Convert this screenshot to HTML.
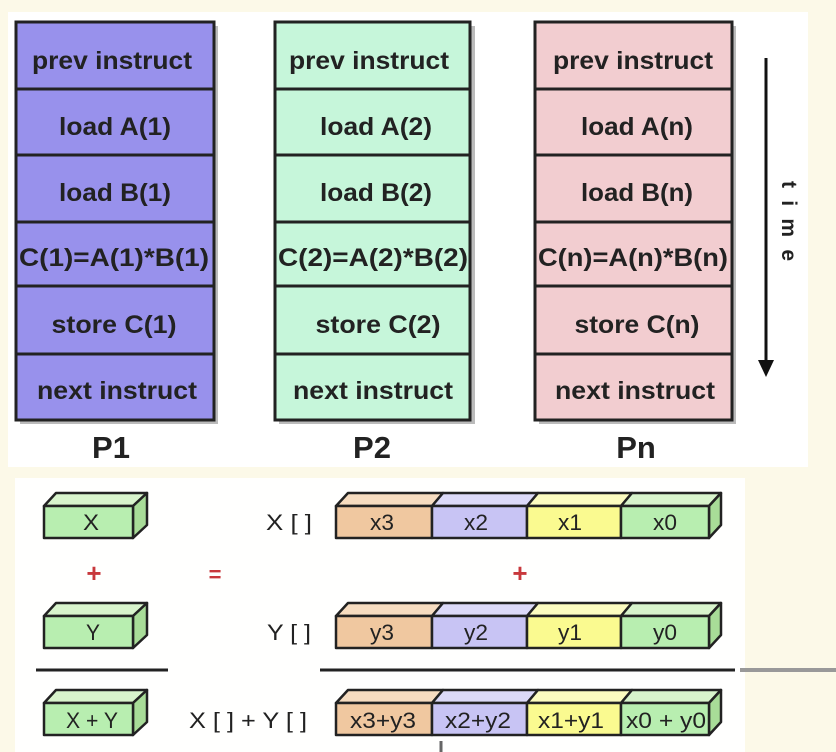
<!DOCTYPE html>
<html><head><meta charset="utf-8"><style>
html,body{margin:0;padding:0;background:#fcf9e8;}
svg{display:block;}
text{font-family:"Liberation Sans",sans-serif;font-weight:bold;fill:#222;}
.c{font-family:"Liberation Sans",sans-serif;font-weight:normal;}
</style></head><body>
<svg width="836" height="752" viewBox="0 0 836 752" xmlns="http://www.w3.org/2000/svg">
<rect x="0" y="0" width="836" height="752" fill="#fcf9e8"/>
<rect x="8" y="12" width="800" height="455" fill="#ffffff"/>
<rect x="15" y="478" width="730" height="274" fill="#fffffe"/>
<g stroke="#222" stroke-width="3">
<rect x="20" y="26" width="198" height="398" fill="#777" stroke="none" opacity="0.5"/>
<rect x="279" y="26" width="196" height="398" fill="#777" stroke="none" opacity="0.5"/>
<rect x="539" y="26" width="197" height="398" fill="#777" stroke="none" opacity="0.5"/>
<rect x="16" y="22" width="198" height="398" fill="#9891ec"/>
<rect x="275" y="22" width="195" height="398" fill="#c6f6da"/>
<rect x="535" y="22" width="197" height="398" fill="#f2cdd0"/>
<path d="M16 89H214M16 155H214M16 222H214M16 286H214M16 354H214" fill="none"/>
<path d="M275 89H470M275 155H470M275 222H470M275 286H470M275 354H470" fill="none"/>
<path d="M535 89H732M535 155H732M535 222H732M535 286H732M535 354H732" fill="none"/>
</g>
<g font-size="25" text-anchor="middle" lengthAdjust="spacingAndGlyphs">
<text x="112" y="69" textLength="160" lengthAdjust="spacingAndGlyphs">prev instruct</text><text x="115" y="135" textLength="112" lengthAdjust="spacingAndGlyphs">load A(1)</text><text x="115" y="201" textLength="112" lengthAdjust="spacingAndGlyphs">load B(1)</text>
<text x="114" y="266" textLength="190" lengthAdjust="spacingAndGlyphs">C(1)=A(1)*B(1)</text><text x="114" y="333" textLength="125" lengthAdjust="spacingAndGlyphs">store C(1)</text><text x="117" y="399" textLength="160" lengthAdjust="spacingAndGlyphs">next instruct</text>
<text x="369" y="69" textLength="160" lengthAdjust="spacingAndGlyphs">prev instruct</text><text x="376" y="135" textLength="112" lengthAdjust="spacingAndGlyphs">load A(2)</text><text x="376" y="201" textLength="112" lengthAdjust="spacingAndGlyphs">load B(2)</text>
<text x="373" y="266" textLength="190" lengthAdjust="spacingAndGlyphs">C(2)=A(2)*B(2)</text><text x="378" y="333" textLength="125" lengthAdjust="spacingAndGlyphs">store C(2)</text><text x="373" y="399" textLength="160" lengthAdjust="spacingAndGlyphs">next instruct</text>
<text x="633" y="69" textLength="160" lengthAdjust="spacingAndGlyphs">prev instruct</text><text x="637" y="135" textLength="112" lengthAdjust="spacingAndGlyphs">load A(n)</text><text x="637" y="201" textLength="112" lengthAdjust="spacingAndGlyphs">load B(n)</text>
<text x="633" y="266" textLength="190" lengthAdjust="spacingAndGlyphs">C(n)=A(n)*B(n)</text><text x="637" y="333" textLength="125" lengthAdjust="spacingAndGlyphs">store C(n)</text><text x="635" y="399" textLength="160" lengthAdjust="spacingAndGlyphs">next instruct</text>
<text x="111" y="458" font-size="31">P1</text><text x="372" y="458" font-size="31">P2</text><text x="636" y="458" font-size="31">Pn</text>
</g>
<line x1="766" y1="58" x2="766" y2="362" stroke="#111" stroke-width="3"/>
<polygon points="758,360 774,360 766,377" fill="#111"/>
<text x="782" y="221" font-size="21" transform="rotate(90 782 221)" text-anchor="middle" textLength="80" lengthAdjust="spacing">time</text>

<g stroke="#222" stroke-width="2.5" stroke-linejoin="round">
<path d="M44 506L56 493H147L133 506Z" fill="#d8f4cc"/><path d="M133 506L147 493V525L133 538Z" fill="#a8dc98"/><rect x="44" y="506" width="89" height="32" fill="#b8eeb0"/>
<path d="M44 616L56 603H147L133 616Z" fill="#d8f4cc"/><path d="M133 616L147 603V635L133 648Z" fill="#a8dc98"/><rect x="44" y="616" width="89" height="32" fill="#b8eeb0"/>
<path d="M44 703L56 690H147L133 703Z" fill="#d8f4cc"/><path d="M133 703L147 690V722L133 735Z" fill="#a8dc98"/><rect x="44" y="703" width="89" height="32" fill="#b8eeb0"/>
<g id="ar">
<path d="M336 506L348 493H443L432 506Z" fill="#f6dcc0"/>
<path d="M432 506L443 493H538L527 506Z" fill="#dcdaf8"/>
<path d="M527 506L538 493H632L621 506Z" fill="#fcfcc0"/>
<path d="M621 506L632 493H721L709 506Z" fill="#d8f4cc"/>
<path d="M709 506L721 493V525L709 538Z" fill="#a8dc98"/>
<rect x="336" y="506" width="96" height="32" fill="#f0c8a0"/>
<rect x="432" y="506" width="95" height="32" fill="#c8c4f4"/>
<rect x="527" y="506" width="94" height="32" fill="#fafa90"/>
<rect x="621" y="506" width="88" height="32" fill="#b8eeb0"/>
</g>
<use href="#ar" y="110"/>
<use href="#ar" y="197"/>
</g>
<g font-size="22" text-anchor="middle">
<text class="c" x="91" y="530" textLength="16" lengthAdjust="spacingAndGlyphs">X</text>
<text class="c" x="93" y="640" textLength="14" lengthAdjust="spacingAndGlyphs">Y</text>
<text class="c" x="92" y="728" textLength="52" lengthAdjust="spacingAndGlyphs">X + Y</text>
<text class="c" x="289" y="530" textLength="46" lengthAdjust="spacingAndGlyphs">X [ ]</text>
<text class="c" x="289" y="640" textLength="44" lengthAdjust="spacingAndGlyphs">Y [ ]</text>
<text class="c" x="248" y="728" textLength="118" lengthAdjust="spacingAndGlyphs">X [ ] + Y [ ]</text>
<text class="c" x="382" y="530" textLength="24" lengthAdjust="spacingAndGlyphs">x3</text><text class="c" x="476" y="530" textLength="24" lengthAdjust="spacingAndGlyphs">x2</text><text class="c" x="570" y="530" textLength="24" lengthAdjust="spacingAndGlyphs">x1</text><text class="c" x="665" y="530" textLength="24" lengthAdjust="spacingAndGlyphs">x0</text>
<text class="c" x="382" y="640" textLength="24" lengthAdjust="spacingAndGlyphs">y3</text><text class="c" x="476" y="640" textLength="24" lengthAdjust="spacingAndGlyphs">y2</text><text class="c" x="570" y="640" textLength="24" lengthAdjust="spacingAndGlyphs">y1</text><text class="c" x="665" y="640" textLength="24" lengthAdjust="spacingAndGlyphs">y0</text>
<text class="c" x="383" y="728" textLength="66" lengthAdjust="spacingAndGlyphs">x3+y3</text><text class="c" x="478" y="728" textLength="66" lengthAdjust="spacingAndGlyphs">x2+y2</text><text class="c" x="571" y="728" textLength="66" lengthAdjust="spacingAndGlyphs">x1+y1</text><text class="c" x="666" y="728" textLength="80" lengthAdjust="spacingAndGlyphs">x0 + y0</text>
</g>
<g font-size="26" text-anchor="middle">
<text x="94" y="582" style="fill:#c8383c">+</text>
<text x="520" y="582" style="fill:#c8383c">+</text>
<text x="215" y="582" style="fill:#c8383c" font-size="22">=</text>
</g>
<line x1="36" y1="670" x2="168" y2="670" stroke="#222" stroke-width="3"/>
<line x1="320" y1="670" x2="735" y2="670" stroke="#222" stroke-width="3"/>
<line x1="740" y1="670" x2="836" y2="670" stroke="#999" stroke-width="4"/>
<line x1="441" y1="741" x2="441" y2="752" stroke="#666" stroke-width="3"/>
</svg>
</body></html>
